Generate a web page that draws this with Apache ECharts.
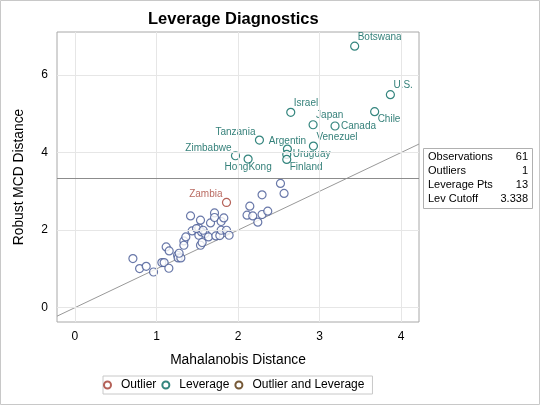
<!DOCTYPE html>
<html><head><meta charset="utf-8">
<script src="https://cdn.jsdelivr.net/npm/echarts@6/dist/echarts.min.js"></script>
<style>html,body{margin:0;padding:0;background:#fff}#c{width:540px;height:405px}</style>
</head><body><div id="c"></div><script>
// ---- data ----
const xTicks = [0, 1, 2, 3, 4];
const yTicks = [0, 2, 4, 6];
const xRange = [-0.22, 4.22];
const yRange = [-0.37, 7.11];
const cutoff = 3.338;

const normalX = [0.711,0.793,0.874,0.964,1.066,1.094,1.152,1.119,1.156,1.259,1.266,1.299,1.336,1.336,1.360,1.418,1.437,1.520,1.540,1.520,1.553,1.540,1.560,1.597,1.638,1.663,1.712,1.712,1.728,1.777,1.793,1.793,1.826,1.859,1.891,2.145,2.111,2.181,2.243,2.295,2.365,2.295,2.521,2.565,1.491,1.572,1.278];
const normalY = [1.266,1.008,1.067,0.920,1.163,1.163,1.016,1.566,1.463,1.351,1.282,1.282,1.721,1.610,1.824,2.367,1.979,2.057,2.256,1.868,1.953,1.610,1.680,1.912,1.824,2.186,2.444,2.326,1.850,1.860,1.997,2.222,2.315,1.997,1.868,2.618,2.385,2.367,2.204,2.403,2.488,2.910,3.204,2.946,2.041,1.997,1.403];

const levNames = ['Botswana','U.S.','Israel','Japan','Canada','Chile','Tanzania','Venezuel','Argentin','Uruguay','Finland','Zimbabwe','HongKong'];
const levX = [3.431,3.869,2.647,2.921,3.190,3.676,2.263,2.925,2.606,2.598,2.598,1.969,2.124];
const levY = [6.744,5.494,5.039,4.718,4.685,5.055,4.323,4.168,4.090,3.953,3.824,3.918,3.832];

const outNames = ['Zambia'];
const outX = [1.859];
const outY = [2.713];

const tableLabels = ['Observations','Outliers','Leverage Pts','Lev Cutoff'];
const tableValues = ['61','1','13','3.338'];

// ---- styling ----
const FONT = '"Liberation Sans", Arial, sans-serif';
const C_NORMAL = '#445694', C_OUT = '#A23A2E', C_LEV = '#01665E', C_BOTH = '#543005';
const place = {
  Botswana:'tr','U.S.':'tr',Israel:'tr',Japan:'tr',Canada:'r',Chile:'br',Tanzania:'tl',
  Venezuel:'tr',Argentin:'t',Uruguay:'r',Finland:'br',Zimbabwe:'tl',HongKong:'b',Zambia:'tl'
};
const placeCfg = {
  tr:{align:'left',offset:[3,-9]}, r:{align:'left',offset:[6,0]}, br:{align:'left',offset:[3,8]},
  tl:{align:'right',offset:[-4,-8]}, t:{align:'center',offset:[0,-8]}, b:{align:'center',offset:[0,8]}
};
function labeled(names, xs, ys, color){
  return names.map((n,i)=>{
    const p = placeCfg[place[n] || 'tr'];
    return {name:n, value:[xs[i], ys[i]], label:{show:true, formatter:n, position:'inside',
      align:p.align, verticalAlign:'middle', offset:p.offset, color:color, fontSize:10,
      fontFamily:FONT, textBorderWidth:0, textBorderColor:'transparent'}};
  });
}
const pointStyle = c => ({color:'#fff', borderColor:c, borderWidth:1.2});

const chart = echarts.init(document.getElementById('c'), null, {renderer:'canvas'});
const tableTop = 148, tableLeft = 423, tableW = 109, rowH = 14;
const graphics = [
  {type:'rect', shape:{x:0.5,y:0.5,width:539,height:404}, style:{fill:'none',stroke:'#c8c8c8',lineWidth:1}, silent:true},
  {type:'rect', shape:{x:tableLeft+0.5,y:tableTop+0.5,width:tableW,height:rowH*tableLabels.length+4}, style:{fill:'#fff',stroke:'#b0b0b0',lineWidth:1}, silent:true}
];
tableLabels.forEach((t,i)=>{
  graphics.push({type:'text', x:tableLeft+5, y:tableTop+9+i*rowH, style:{text:t, fill:'#000', font:'11px '+FONT, textVerticalAlign:'middle', textAlign:'left'}, silent:true});
  graphics.push({type:'text', x:tableLeft+tableW-4, y:tableTop+9+i*rowH, style:{text:tableValues[i], fill:'#000', font:'11px '+FONT, textVerticalAlign:'middle', textAlign:'right'}, silent:true});
});

chart.setOption({
  animation:false,
  backgroundColor:'#fff',
  title:{text:'Leverage Diagnostics', left:143, top:6,
    textStyle:{fontSize:16.5, fontWeight:'bold', color:'#000', fontFamily:FONT}},
  grid:{left:57, top:32, right:121, bottom:83, show:true, borderColor:'#a8a8a8', borderWidth:1},
  legend:{left:103, top:376, data:['Outlier','Leverage','Outlier and Leverage'],
    borderColor:'#c8c8c8', borderWidth:1, padding:[3,8,3,0], itemGap:5, itemWidth:17, itemHeight:7,
    icon:'circle', symbolKeepAspect:true, textStyle:{fontSize:12, color:'#000', fontFamily:FONT}},
  xAxis:{type:'value', min:xRange[0], max:xRange[1], name:'Mahalanobis Distance', nameLocation:'middle', nameGap:31,
    nameTextStyle:{fontSize:13.8, color:'#000', fontFamily:FONT},
    axisLine:{show:false}, splitLine:{show:false},
    axisTick:{show:true, customValues:xTicks, length:4, lineStyle:{color:'#8a8a8a'}},
    axisLabel:{customValues:xTicks, fontSize:12, color:'#000', margin:9, fontFamily:FONT}},
  yAxis:{type:'value', min:yRange[0], max:yRange[1], name:'Robust MCD Distance', nameLocation:'middle', nameGap:31,
    nameTextStyle:{fontSize:13.8, color:'#000', fontFamily:FONT},
    axisLine:{show:false}, splitLine:{show:false},
    axisTick:{show:true, customValues:yTicks, length:4, lineStyle:{color:'#8a8a8a'}},
    axisLabel:{customValues:yTicks, fontSize:12, color:'#000', margin:9, fontFamily:FONT}},
  graphic:graphics,
  series:[
    {type:'line', name:'grid', data:[], silent:true, z:0,
      markLine:{silent:true, symbol:'none', label:{show:false}, animation:false,
        lineStyle:{color:'#e6e6e6', type:'solid', width:1},
        data:[...xTicks.map(v=>({xAxis:v})), ...yTicks.map(v=>({yAxis:v}))]}},
    {type:'line', name:'ref', silent:true, symbol:'none', z:1,
      data:[[xRange[0],xRange[0]],[xRange[1],xRange[1]]],
      lineStyle:{color:'#999', width:1},
      markLine:{silent:true, symbol:'none', label:{show:false},
        lineStyle:{color:'#8c8c8c', type:'solid', width:1}, data:[{yAxis:cutoff}]}},
    {type:'scatter', name:'normal', symbol:'circle', symbolSize:8, z:3,
      itemStyle:pointStyle(C_NORMAL), data:normalX.map((x,i)=>[x, normalY[i]])},
    {type:'scatter', name:'Outlier', symbol:'circle', symbolSize:8, z:4,
      itemStyle:pointStyle(C_OUT), data:labeled(outNames, outX, outY, '#a8453a')},
    {type:'scatter', name:'Leverage', symbol:'circle', symbolSize:8, z:4,
      itemStyle:pointStyle(C_LEV), data:labeled(levNames, levX, levY, '#006058')},
    {type:'scatter', name:'Outlier and Leverage', symbol:'circle', symbolSize:8, z:4,
      itemStyle:pointStyle(C_BOTH), data:[]}
  ]
});
</script></body></html>
